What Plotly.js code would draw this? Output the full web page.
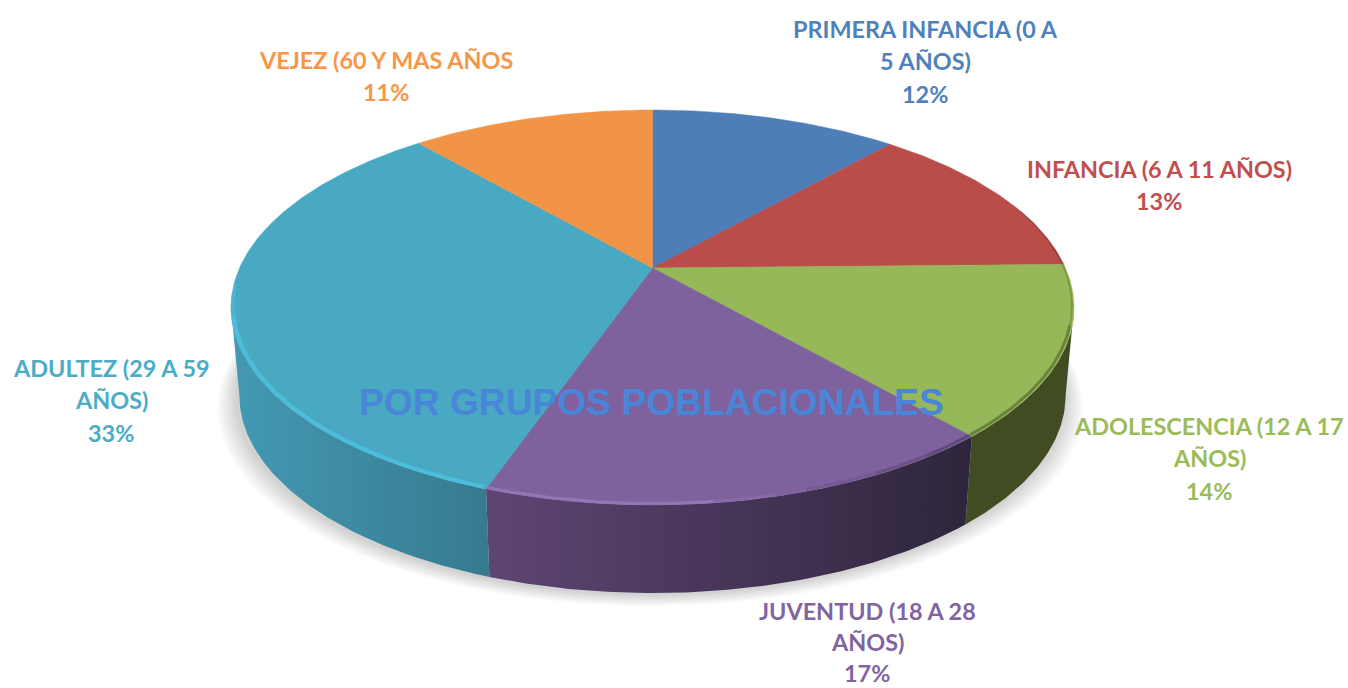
<!DOCTYPE html>
<html>
<head>
<meta charset="utf-8">
<script src="https://cdn.plot.ly/plotly-3.0.1.min.js"></script>
<style>html,body{margin:0;padding:0;background:#fff}#chart{width:1348px;height:688px}</style>
</head>
<body>
<div id="chart"></div>
<script>
// ---- data ----
const categories = ["PRIMERA INFANCIA (0 A|5 AÑOS)", "INFANCIA (6 A 11 AÑOS)", "ADOLESCENCIA (12 A 17|AÑOS)", "JUVENTUD (18 A 28|AÑOS)", "ADULTEZ (29 A 59|AÑOS)", "VEJEZ (60 Y MAS AÑOS"];
const values = [11.5, 13.2, 13.9, 16.7, 33.4, 11.3];
const chartTitle = "POR GRUPOS POBLACIONALES";

// ---- styles ----
const faceColors = ["#4D7EB8", "#BA4D4A", "#97B858", "#7F619E", "#49A8C2", "#F29445"];
const labelColors = ["#4F81BD", "#C0504D", "#9BBB59", "#8064A2", "#4BACC6", "#F79646"];
const wallFrom = ["#2F4D70", "#702E2C", "#414C22", "#5E4673", "#4499B3", "#94592A"];
const wallTo = ["#2F4D70", "#702E2C", "#414C22", "#2E253C", "#367A8F", "#94592A"];
const labelX = [925, 1159, 1209, 867, 111, 386];
const labelY = [61, 185, 458, 642, 400, 76];
const lineGap = [32.5, 32.5, 32.5, 31, 32.5, 32.5];

// ---- projection of the tilted disc ----
const cx = 652.5, cy = 268, ax = 413, by = 189.6, persp = 0.2, depth = 88, foot = 0.98;
function topPt(t) {
  const u = Math.sin(t), v = Math.cos(t), w = 1 + persp * v;
  return [cx + ax * u / w, cy - by * v / w];
}
function bottomPt(t) {
  const p = topPt(t);
  return [cx + (p[0] - cx) * foot, p[1] + depth];
}
function arc(fn, t0, t1) {
  const n = Math.max(2, Math.ceil(Math.abs(t1 - t0) * 90));
  const pts = [];
  for (let i = 0; i <= n; i++) pts.push(fn(t0 + (t1 - t0) * i / n));
  return pts;
}
const xs = p => p.map(q => q[0]);
const ys = p => p.map(q => q[1]);

const total = values.reduce((a, b) => a + b, 0);
const angle = c => c / total * 2 * Math.PI;
const bounds = [0];
values.forEach(v => bounds.push(bounds[bounds.length - 1] + v));

// the silhouette of the disc: only this front stretch of the wall can be seen
const frontStart = Math.acos(-persp), frontEnd = 2 * Math.PI - frontStart;

const traces = [];

// soft shadow under the disc: stacked translucent outlines
for (let s = 0; s < 9; s++) {
  const g = 20 - s * 2.2;
  const ring = arc(t => {
    const p = bottomPt(t);
    return [cx + (p[0] - cx) * (1 + g / 420) - 2, p[1] + g * 0.6 + 1];
  }, 0, 2 * Math.PI);
  traces.push({type: "scatter", mode: "lines", x: xs(ring), y: ys(ring), fill: "toself",
    fillcolor: "rgba(60,60,60,0.024)", line: {width: 0}, hoverinfo: "skip", showlegend: false});
}

// side walls
values.forEach((v, i) => {
  const t0 = Math.max(angle(bounds[i]), frontStart), t1 = Math.min(angle(bounds[i + 1]), frontEnd);
  if (t1 <= t0) return;
  const poly = arc(topPt, t0, t1).concat(arc(bottomPt, t1, t0));
  const px = xs(poly);
  traces.push({type: "scatter", mode: "lines", x: px, y: ys(poly), fill: "toself",
    fillgradient: {type: "horizontal", start: Math.min(...px), stop: Math.max(...px),
      colorscale: [[0, wallFrom[i]], [1, wallTo[i]]]},
    line: {width: 0}, hoverinfo: "skip", showlegend: false});
});

// top faces
values.forEach((v, i) => {
  const t0 = angle(bounds[i]), t1 = angle(bounds[i + 1]);
  const poly = [[cx, cy]].concat(arc(topPt, t0, t1));
  poly.push([cx, cy]);
  traces.push({type: "scatter", mode: "lines", x: xs(poly), y: ys(poly), fill: "toself",
    fillcolor: faceColors[i], line: {width: 0.5, color: faceColors[i]},
    text: Math.round(v) + "%", hoverinfo: "text", showlegend: false});
});

// bevel shading on the rim (positions given as cumulative share of the pie)
function rim(c0, c1, color, width) {
  const p = arc(t => {
    const q = topPt(t);
    return [cx + (q[0] - cx) * 0.995, q[1] - 1.5];
  }, angle(c0), angle(c1));
  traces.push({type: "scatter", mode: "lines", x: xs(p), y: ys(p),
    line: {color, width}, hoverinfo: "skip", showlegend: false});
}
rim(bounds[4] + 0.1, 71, "#4CBEDB", 4);
rim(71, 73.5, "rgba(76,190,219,0.55)", 3);
rim(bounds[3] + 9.5, bounds[4] - 0.05, "#9476B4", 3);
rim(bounds[3] + 7.5, bounds[3] + 9.5, "rgba(148,118,180,0.4)", 3);
rim(bounds[3] + 4, bounds[3] + 6.5, "rgba(60,45,80,0.15)", 3);
rim(bounds[3] + 2, bounds[3] + 4, "rgba(60,45,80,0.3)", 3);
rim(bounds[3] + 0.05, bounds[3] + 2, "rgba(60,45,80,0.45)", 3);
rim(bounds[2] + 5, bounds[3], "rgba(70,85,40,0.55)", 3);
rim(bounds[2] + 0.05, bounds[2] + 5, "rgba(70,85,40,0.3)", 2);
rim(20, bounds[2], "rgba(90,40,40,0.35)", 1.5);

// labels: one annotation per text line so the line spacing can follow the picture
const fontFamily = "Lato, 'Open Sans', sans-serif";
const annotations = [];
categories.forEach((c, i) => {
  const lines = c.split("|").concat(Math.round(values[i]) + "%");
  lines.forEach((line, j) => annotations.push({
    x: labelX[i], y: labelY[i] + (j - (lines.length - 1) / 2) * lineGap[i],
    xref: "x", yref: "y", showarrow: false,
    text: "<b>" + line + "</b>",
    font: {family: fontFamily, size: 23.4, color: labelColors[i]}
  }));
});
annotations.push({
  x: 651, y: 402, xref: "x", yref: "y", showarrow: false,
  text: "<b>" + chartTitle + "</b>",
  font: {family: "'Liberation Sans', Arial, sans-serif", size: 37.2, color: "#4A86D8"}
});

const layout = {
  width: 1348, height: 688,
  margin: {l: 0, r: 0, t: 0, b: 0},
  paper_bgcolor: "#fff", plot_bgcolor: "#fff",
  xaxis: {range: [0, 1348], visible: false, fixedrange: true},
  yaxis: {range: [688, 0], visible: false, fixedrange: true},
  showlegend: false,
  annotations
};
Plotly.newPlot("chart", traces, layout, {displayModeBar: false, staticPlot: true});
</script>
</body>
</html>
